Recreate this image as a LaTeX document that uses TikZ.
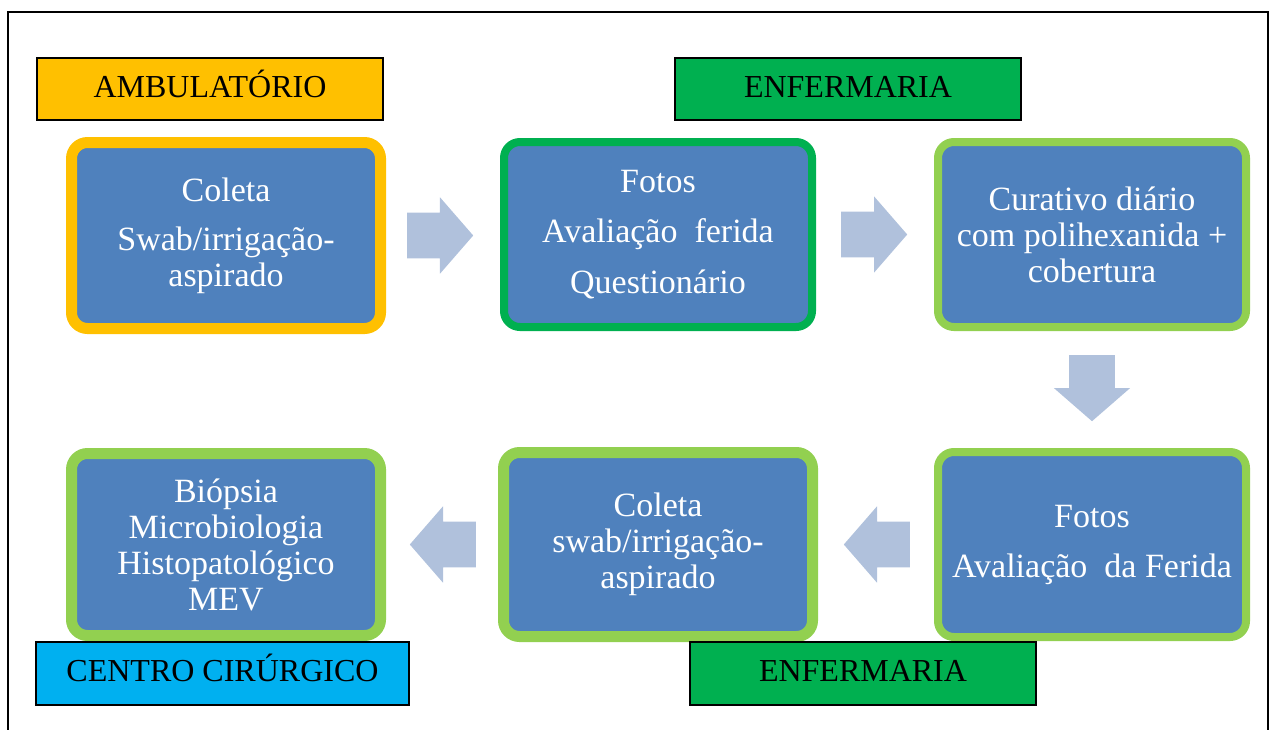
\documentclass[tikz,border=0pt]{standalone}
\usepackage{fontspec}
\setmainfont{Liberation Serif}
\usepackage{tikz}
\usetikzlibrary{shapes.arrows}
\definecolor{azul}{RGB}{79,129,189}
\definecolor{laranja}{RGB}{255,192,0}
\definecolor{verde}{RGB}{0,176,80}
\definecolor{verdeclaro}{RGB}{146,208,80}
\definecolor{ciano}{RGB}{0,176,240}
\definecolor{seta}{RGB}{176,193,220}

\begin{document}
\begin{tikzpicture}[x=1pt,y=-1pt]
  \useasboundingbox (0,0) rectangle (1271,729);
  \clip (0,0) rectangle (1271,729);
  \draw[line width=2pt] (8,12) rectangle (1268,760);
  \tikzstyle{Etapa}=[draw, fill=azul, rounded corners=16pt, text=white, align=center,
    inner sep=0pt, minimum width=308pt, minimum height=185pt, font=\fontsize{34}{36}\selectfont]
  \tikzstyle{Local}=[draw=black, line width=2pt, inner sep=0pt, minimum height=62pt,
    text height=21pt, text depth=5pt, font=\fontsize{32}{36}\selectfont]
  \tikzstyle{Seta}=[single arrow, fill=seta, inner sep=0pt, inner ysep=22.75pt, minimum height=66pt,
    minimum width=76pt, single arrow head extend=15.25pt, single arrow tip angle=98, anchor=tail]
  \node[Etapa, draw=laranja, line width=11pt, minimum width=309pt, minimum height=186pt] (b1) at (226,235.5)
    {Coleta\\[13pt]Swab/irrigação-\\aspirado};
  \node[Etapa, draw=verde, line width=8pt] (b2) at (658,234.5)
    {Fotos\\[14pt]Avaliação~ ferida\\[15pt]Questionário};
  \node[Etapa, draw=verdeclaro, line width=8pt] (b3) at (1092,234.5)
    {Curativo diário\\com polihexanida +\\cobertura};
  \node[Etapa, draw=verdeclaro, line width=8pt] (b4) at (1092,544.5)
    {Fotos\\[14pt]Avaliação~ da Ferida};
  \node[Etapa, draw=verdeclaro, line width=11pt, minimum width=309pt, minimum height=184pt] (b5) at (658,544.5)
    {Coleta\\swab/irrigação-\\aspirado};
  \node[Etapa, draw=verdeclaro, line width=11pt, minimum width=309pt, minimum height=182pt] (b6) at (226,544.5)
    {Biópsia\\Microbiologia\\Histopatológico\\MEV};
  \node[Local, fill=laranja, minimum width=346pt] (amb) at (210,89) {AMBULATÓRIO};
  \node[Local, fill=verde, minimum width=346pt] (enf1) at (848,89) {ENFERMARIA};
  \node[Local, fill=ciano, minimum width=373pt, minimum height=63pt] (cc) at (222.5,673.5) {CENTRO CIRÚRGICO};
  \node[Local, fill=verde, minimum width=346pt, minimum height=63pt] (enf2) at (863,673.5) {ENFERMARIA};
  \node[Seta] (s12) at ([xshift=21pt]b1.east) {};
  \node[Seta] (s23) at ([xshift=25pt]b2.east) {};
  \node[Seta, rotate=-90] (s34) at ([yshift=-24pt]b3.south) {};
  \node[Seta, rotate=180] (s45) at ([xshift=-24pt]b4.west) {};
  \node[Seta, rotate=180] (s56) at ([xshift=-22pt]b5.west) {};
\end{tikzpicture}
\end{document}
